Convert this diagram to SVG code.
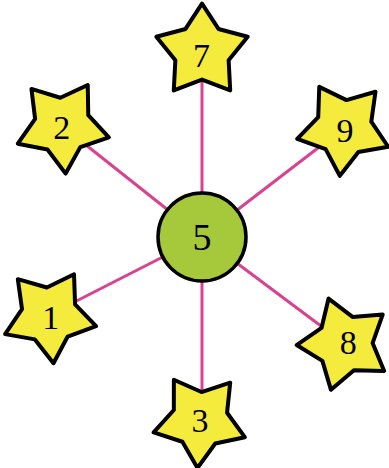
<svg xmlns="http://www.w3.org/2000/svg" xmlns:xlink="http://www.w3.org/1999/xlink" width="389" height="468" viewBox="0 0 389 468">
  <style>
    .link { stroke: #d8428e; stroke-width: 3; fill: none; }
    .star { fill: #f5eb3c; stroke: #000; stroke-width: 4; stroke-linejoin: round; }
    .hub { fill: #a5c93a; stroke: #000; stroke-width: 3.5; }
    .lbl { font-family: "Liberation Serif", "Times New Roman", serif; font-size: 34px; fill: #000; text-anchor: middle; }
    .hublbl { font-size: 38px; }
  </style>
  <defs>
    <polygon id="starShape" points="0,-48 16.46,-22.65 45.65,-14.83 26.63,8.65 28.21,38.83 0,28 -28.21,38.83 -26.63,8.65 -45.65,-14.83 -16.46,-22.65"/>
  </defs>
  <rect width="389" height="468" fill="#ffffff"/>
  <g id="connectors">
    <line class="link" x1="202" y1="237" x2="202" y2="60"/>
    <line class="link" x1="202" y1="237" x2="62" y2="126"/>
    <line class="link" x1="202" y1="237" x2="344" y2="128"/>
    <line class="link" x1="202" y1="237" x2="49" y2="315"/>
    <line class="link" x1="202" y1="237" x2="345" y2="344"/>
    <line class="link" x1="202" y1="237" x2="202" y2="410"/>
  </g>
  <g id="node7">
    <use xlink:href="#starShape" href="#starShape" class="star" transform="translate(202,51.6)"/>
    <text class="lbl" x="201.5" y="66.5">7</text>
  </g>
  <g id="node2">
    <use xlink:href="#starShape" href="#starShape" class="star" transform="translate(62.3,125.7) rotate(176)"/>
    <text class="lbl" x="61.7" y="138.5">2</text>
  </g>
  <g id="node9">
    <use xlink:href="#starShape" href="#starShape" class="star" transform="translate(344,128) rotate(185)"/>
    <text class="lbl" x="345" y="141.5">9</text>
  </g>
  <g id="node5">
    <circle class="hub" cx="202" cy="237" r="44"/>
    <text class="lbl hublbl" x="202" y="250">5</text>
  </g>
  <g id="node1">
    <use xlink:href="#starShape" href="#starShape" class="star" transform="translate(49.3,315.4) rotate(175)"/>
    <text class="lbl" x="50.8" y="328.5">1</text>
  </g>
  <g id="node8">
    <use xlink:href="#starShape" href="#starShape" class="star" transform="translate(344.6,343.8) rotate(-19.5)"/>
    <text class="lbl" x="348.3" y="353.5">8</text>
  </g>
  <g id="node3">
    <use xlink:href="#starShape" href="#starShape" class="star" transform="translate(200,420) rotate(183)"/>
    <text class="lbl" x="200" y="432">3</text>
  </g>
</svg>
